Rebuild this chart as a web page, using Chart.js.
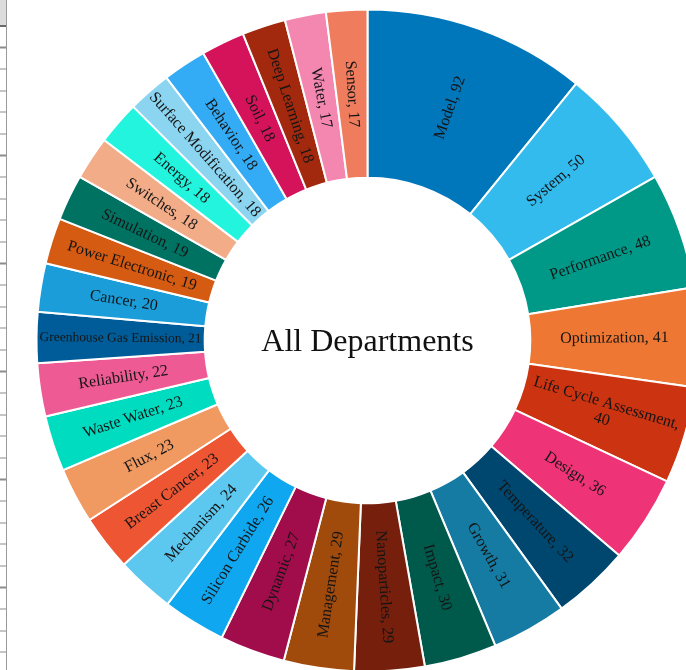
<!DOCTYPE html>
<html>
<head>
<meta charset="utf-8">
<script src="https://cdn.jsdelivr.net/npm/chart.js@4"></script>
<style>
  html, body { margin: 0; padding: 0; background: #fff; }
  #wrap { position: relative; width: 686px; height: 670px; overflow: hidden; }
  #chart { position: absolute; left: 0; top: 0; }
  /* ruled strip along the left edge */
  #strip {
    position: absolute; left: 0; top: 0; width: 6px; height: 670px;
    border-right: 1.5px solid #9a9a9a;
    background:
      linear-gradient(to bottom, #dcdcdc 0 25px, #6a6a6a 25px 27px, transparent 27px),
      repeating-linear-gradient(to bottom, transparent 0 20.4px, #8c8c8c 20.4px 21.6px);
    background-position: 0 0, 0 26.5px;
    background-repeat: no-repeat, repeat-y;
  }
</style>
</head>
<body>
<div id="wrap">
  <canvas id="chart" width="735" height="681"></canvas>
  <div id="strip"></div>
</div>
<script>
// 主题及篇数
const categories = [
    'Model', 'System', 'Performance', 'Optimization', 'Life Cycle Assessment',
    'Design', 'Temperature', 'Growth', 'Impact', 'Nanoparticles',
    'Management', 'Dynamic', 'Silicon Carbide', 'Mechanism', 'Breast Cancer',
    'Flux', 'Waste Water', 'Reliability', 'Greenhouse Gas Emission', 'Cancer',
    'Power Electronic', 'Simulation', 'Switches', 'Energy', 'Surface Modification',
    'Behavior', 'Soil', 'Deep Learning', 'Water', 'Sensor'
];
const counts = [
    92, 50, 48, 41, 40,
    36, 32, 31, 30, 29,
    29, 27, 26, 24, 23,
    23, 23, 22, 21, 20,
    19, 19, 18, 18, 18,
    18, 18, 18, 17, 17
];
const sliceColors = [
    '#0077bb', '#33bbee', '#009988', '#ee7733', '#cc3311',
    '#ee3377', '#00476f', '#157ba2', '#005a4c', '#761f0c',
    '#a04a0c', '#a00d4a', '#0fa8f0', '#5cc8ef', '#ee5533',
    '#f09a62', '#00dcc0', '#ee5b94', '#005c98', '#1a9dd8',
    '#d55a12', '#007262', '#f2ad88', '#22f4de', '#8bd5f0',
    '#34acf5', '#d5135a', '#a3290e', '#f487b0', '#f07c5e'
];
const centerTitle = 'All Departments';

const FONT = '"Liberation Serif", "Times New Roman", serif';

// 扇区内文字：沿半径方向排布，放不下时换行或缩小
const sliceLabels = {
    id: 'sliceLabels',
    afterDatasetsDraw(chart) {
        const ctx = chart.ctx;
        const meta = chart.getDatasetMeta(0);
        meta.data.forEach((arc, i) => {
            const p = arc.getProps(['x', 'y', 'startAngle', 'endAngle', 'innerRadius', 'outerRadius'], true);
            const mid = (p.startAngle + p.endAngle) / 2;
            const r = (p.innerRadius + p.outerRadius) / 2;
            const room = p.outerRadius - p.innerRadius - 6;
            const arcWidth = (p.endAngle - p.startAngle) * r;

            let size = 16;
            ctx.font = size + 'px ' + FONT;
            let lines = [categories[i] + ', ' + counts[i]];
            if (ctx.measureText(lines[0]).width > room && arcWidth > size * 3) {
                lines = [categories[i] + ',', String(counts[i])];
            }
            const widest = Math.max(...lines.map(l => ctx.measureText(l).width));
            if (widest > room) size = size * room / widest;

            let rot = mid;
            while (rot > Math.PI) rot -= 2 * Math.PI;
            while (rot <= -Math.PI) rot += 2 * Math.PI;
            if (rot > Math.PI / 2 || rot < -Math.PI / 2) rot += Math.PI;

            ctx.save();
            ctx.translate(p.x + Math.cos(mid) * r, p.y + Math.sin(mid) * r);
            ctx.rotate(rot);
            ctx.font = size + 'px ' + FONT;
            ctx.fillStyle = '#151515';
            ctx.textAlign = 'center';
            ctx.textBaseline = 'middle';
            const lh = size * 1.05;
            lines.forEach((l, k) => {
                ctx.fillText(l, 0, (k - (lines.length - 1) / 2) * lh);
            });
            ctx.restore();
        });
    },
    afterDraw(chart) {
        const ctx = chart.ctx;
        const arc = chart.getDatasetMeta(0).data[0];
        ctx.save();
        ctx.font = '32px ' + FONT;
        ctx.fillStyle = '#111';
        ctx.textAlign = 'center';
        ctx.textBaseline = 'middle';
        ctx.fillText(centerTitle, arc.x, arc.y + 2);
        ctx.restore();
    }
};

new Chart(document.getElementById('chart'), {
    type: 'doughnut',
    data: {
        labels: categories,
        datasets: [{
            data: counts,
            backgroundColor: sliceColors,
            borderColor: '#ffffff',
            borderWidth: 2
        }]
    },
    options: {
        responsive: false,
        animation: false,
        events: [],
        radius: 331,
        cutout: 167,
        plugins: {
            legend: { display: false },
            tooltip: { enabled: false }
        }
    },
    plugins: [sliceLabels]
});
</script>
</body>
</html>
